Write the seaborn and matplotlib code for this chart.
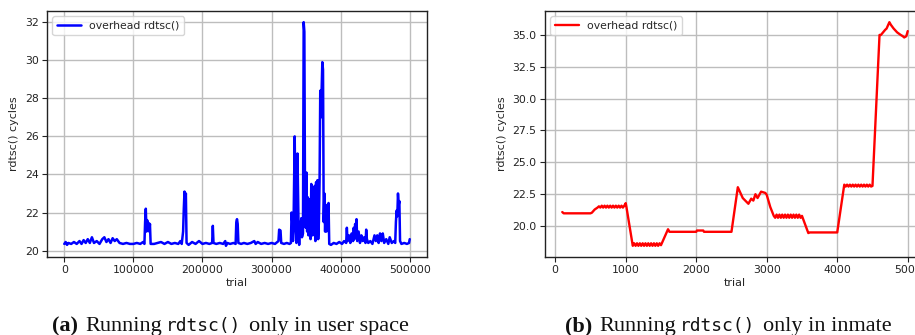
import matplotlib
matplotlib.use("Agg")
import matplotlib.pyplot as plt
import seaborn as sns
import pandas as pd

# ---------------- data ----------------
# left panel: (trial in thousands, rdtsc() cycles)
user_points = [
    (0, 20.35), (2, 20.45), (4, 20.3), (6, 20.4), (10, 20.35), (14, 20.45), (18, 20.35),
    (22, 20.5), (25, 20.35), (28, 20.55), (31, 20.4), (34, 20.6), (37, 20.4), (40, 20.7),
    (43, 20.4), (47, 20.5), (51, 20.35), (55, 20.6), (58, 20.7), (61, 20.45), (64, 20.6),
    (67, 20.4), (70, 20.65), (73, 20.5), (76, 20.6), (80, 20.4), (85, 20.35), (90, 20.4),
    (95, 20.35), (100, 20.35), (105, 20.4), (110, 20.35), (114, 20.45), (116, 20.35),
    (117, 21.5), (118, 22.2), (119, 21.0), (120, 21.6), (121, 21.2), (122, 21.45),
    (123, 21.0), (124, 21.4), (125, 20.35), (130, 20.35), (135, 20.4), (140, 20.45),
    (145, 20.35), (150, 20.45), (155, 20.35), (160, 20.4), (165, 20.35), (168, 20.5),
    (170, 20.35), (172, 21.0), (173, 22.2), (174, 23.1), (175, 22.5), (176, 23.0),
    (177, 20.4), (180, 20.3), (185, 20.45), (190, 20.35), (195, 20.5), (200, 20.35),
    (205, 20.4), (210, 20.35), (214, 20.4), (215, 21.3), (216, 20.4), (220, 20.35),
    (225, 20.4), (230, 20.35), (233, 20.5), (234, 20.25), (236, 20.4), (240, 20.35),
    (245, 20.4), (248, 20.35), (249, 21.5), (250, 21.65), (251, 21.4), (252, 20.4),
    (256, 20.35), (260, 20.4), (265, 20.35), (270, 20.4), (275, 20.5), (277, 20.35),
    (280, 20.45), (285, 20.35), (290, 20.4), (295, 20.35), (300, 20.4), (305, 20.35),
    (310, 20.5), (311, 21.1), (313, 21.05), (314, 20.4), (318, 20.35), (322, 20.4),
    (326, 20.35), (328, 20.4), (329, 22.0), (330, 21.5), (331, 20.5), (332, 21.8),
    (333.5, 26.0), (335, 21.0), (336, 20.4), (337.5, 25.1), (339, 21.5), (340, 20.3),
    (341, 21.5), (342, 21.0), (343, 21.7), (344, 20.7), (345.5, 20.9), (346.5, 32.0),
    (347.5, 31.5), (348.5, 22.0), (349.5, 21.2), (350.5, 24.1), (351.5, 21.0),
    (352.5, 22.8), (353.5, 20.8), (354.5, 22.7), (355.5, 21.0), (356.5, 20.6),
    (357.5, 23.5), (358.5, 21.2), (359.5, 20.8), (360.5, 23.3), (361.5, 21.0),
    (362.5, 23.4), (363.5, 20.5), (364.5, 23.6), (365.5, 21.0), (366.5, 23.7),
    (367.5, 20.6), (368.5, 21.5), (369.5, 23.6), (370.5, 28.4), (371.5, 27.0),
    (372.5, 28.5), (373.5, 29.9), (374.5, 29.5), (375.5, 21.5), (376.5, 23.0),
    (377.5, 21.0), (378.5, 22.3), (379.5, 21.0), (380.5, 22.4), (381.5, 21.2),
    (382.5, 22.5), (383.5, 20.35), (386, 20.3), (390, 20.4), (394, 20.35), (398, 20.45),
    (402, 20.35), (405, 20.5), (408, 20.4), (409, 21.2), (410, 20.5), (412, 20.8),
    (414, 20.4), (416, 20.9), (418, 20.5), (419, 21.2), (420, 20.6), (421, 21.4),
    (422, 20.7), (423, 21.65), (424, 20.5), (426, 21.0), (428, 20.4), (430, 20.8),
    (432, 20.5), (434, 20.7), (436, 20.4), (437, 21.1), (438, 20.6), (440, 20.4),
    (443, 20.5), (446, 20.35), (449, 20.8), (451, 20.5), (453, 20.8), (455, 20.4),
    (457, 20.9), (459, 20.5), (461, 20.9), (463, 20.4), (466, 20.6), (469, 20.35),
    (471, 20.7), (474, 20.4), (477, 20.5), (479, 20.4), (480, 21.5), (481, 22.1),
    (482, 21.8), (483, 23.0), (484, 22.4), (485, 22.6), (486, 20.5), (488, 20.35),
    (492, 20.4), (496, 20.35), (499, 20.4), (500, 20.6),
]

# right panel: (trial, rdtsc() cycles)
inmate_points = [
    (100, 21.1), (120, 21.0), (500, 21.0), (520, 21.05), (560, 21.3), (600, 21.45),
    (620, 21.55), (640, 21.45), (660, 21.6), (680, 21.45), (700, 21.6), (720, 21.45),
    (740, 21.6), (760, 21.45), (780, 21.6), (800, 21.45), (820, 21.6), (840, 21.45),
    (860, 21.6), (880, 21.45), (900, 21.6), (920, 21.45), (940, 21.6), (960, 21.45),
    (980, 21.6), (1000, 21.8), (1010, 21.5), (1100, 18.45), (1120, 18.65), (1140, 18.45),
    (1160, 18.65), (1180, 18.45), (1200, 18.65), (1220, 18.45), (1240, 18.65),
    (1260, 18.45), (1280, 18.65), (1300, 18.45), (1320, 18.65), (1340, 18.45),
    (1360, 18.65), (1380, 18.45), (1400, 18.65), (1420, 18.45), (1440, 18.65),
    (1460, 18.45), (1480, 18.65), (1500, 18.5), (1600, 19.75), (1620, 19.55),
    (2000, 19.55), (2010, 19.65), (2100, 19.65), (2110, 19.55), (2500, 19.55),
    (2590, 23.05), (2660, 22.2), (2740, 21.75), (2780, 22.15), (2810, 22.0),
    (2840, 22.5), (2870, 22.2), (2920, 22.7), (2980, 22.6), (3000, 22.45), (3050, 21.5),
    (3100, 20.8), (3120, 20.65), (3140, 20.9), (3160, 20.65), (3180, 20.9), (3200, 20.65),
    (3220, 20.9), (3240, 20.65), (3260, 20.9), (3280, 20.65), (3300, 20.9), (3320, 20.65),
    (3340, 20.9), (3360, 20.65), (3380, 20.9), (3400, 20.65), (3420, 20.9), (3440, 20.65),
    (3460, 20.9), (3480, 20.65), (3500, 20.8), (3590, 19.45), (3610, 19.5), (4000, 19.5),
    (4100, 23.25), (4120, 23.1), (4140, 23.25), (4160, 23.1), (4180, 23.25), (4200, 23.1),
    (4220, 23.25), (4240, 23.1), (4260, 23.25), (4280, 23.1), (4300, 23.25), (4320, 23.1),
    (4340, 23.25), (4360, 23.1), (4380, 23.25), (4400, 23.1), (4420, 23.25), (4440, 23.1),
    (4460, 23.25), (4480, 23.1), (4500, 23.15), (4600, 35.0), (4620, 35.0), (4650, 35.2),
    (4680, 35.4), (4700, 35.5), (4740, 36.0), (4760, 35.8), (4800, 35.5), (4850, 35.2),
    (4900, 35.0), (4930, 34.9), (4950, 34.8), (4980, 34.9), (5000, 35.3),
]

user_trial = [t * 1000 for t, _ in user_points]
user_cycles = [v for _, v in user_points]
inmate_trial = [t for t, _ in inmate_points]
inmate_cycles = [v for _, v in inmate_points]

label = "overhead rdtsc()"
left_yticks = [20, 22, 24, 26, 28, 30, 32]
left_xticks = [0, 100000, 200000, 300000, 400000, 500000]
right_yticks = [20.0, 22.5, 25.0, 27.5, 30.0, 32.5, 35.0]
right_xticks = [0, 1000, 2000, 3000, 4000, 5000]

# ---------------- style ----------------
sns.set_style("ticks", {
    "axes.edgecolor": "#222222",
    "axes.grid": True,
    "grid.color": "#bdbdbd",
    "xtick.bottom": True,
    "ytick.left": True,
})
plt.rcParams["font.family"] = ["DejaVu Sans"]
plt.rcParams["grid.linewidth"] = 1.0
plt.rcParams["axes.linewidth"] = 1.0

W, H = 915, 335
fig = plt.figure(figsize=(W / 100, H / 100), dpi=100)

ax1 = fig.add_axes([47 / W, 1 - 257 / H, 380 / W, 246 / H])
ax2 = fig.add_axes([545 / W, 1 - 257 / H, 380 / W, 246 / H])

df1 = pd.DataFrame({"trial": user_trial, "cycles": user_cycles})
df2 = pd.DataFrame({"trial": inmate_trial, "cycles": inmate_cycles})

sns.lineplot(data=df1, x="trial", y="cycles", ax=ax1, color="#0000ff", lw=1.8,
             label=label, estimator=None, sort=False)
sns.lineplot(data=df2, x="trial", y="cycles", ax=ax2, color="#ff0000", lw=1.7,
             label=label, estimator=None, sort=False)

ax1.set_yticks(left_yticks)
ax1.set_xticks(left_xticks)
ax1.set_xticklabels([str(v) for v in left_xticks])
ax2.set_yticks(right_yticks)
ax2.set_yticklabels([f"{v:.1f}" for v in right_yticks])
ax2.set_xticks(right_xticks)
ax2.set_xticklabels([str(v) for v in right_xticks])

for ax in (ax1, ax2):
    ax.set_xlabel("trial", fontsize=8, labelpad=2)
    ax.set_ylabel("rdtsc() cycles", fontsize=8, labelpad=4)
    ax.tick_params(labelsize=7.8, length=3.5, width=0.8, pad=2.5, colors="#222222")
    ax.grid(True, color="#bdbdbd", lw=1.0)
    for s in ax.spines.values():
        s.set_visible(True)
        s.set_color("#222222")
    leg = ax.legend(loc="upper left", fontsize=7.8, frameon=True, fancybox=True,
                    handlelength=2.2, borderpad=0.4, borderaxespad=0.5)
    leg.get_frame().set_edgecolor("#cccccc")

# ---------------- captions ----------------
renderer = fig.canvas.get_renderer()
serif = "Liberation Serif"
mono = "DejaVu Sans Mono"


def caption(x_px, pieces):
    y = 1 - 331 / H
    x = x_px
    for text, fam, weight, size, gap in pieces:
        t = fig.text(x / W, y, text, family=fam, fontweight=weight, fontsize=size,
                     va="baseline", ha="left", color="#111111")
        bb = t.get_window_extent(renderer)
        x = bb.x1 + gap


caption(52, [("(a)", serif, "bold", 16, 7), ("Running", serif, "normal", 16, 4),
             ("rdtsc()", mono, "normal", 12.9, 8),
             ("only in user space", serif, "normal", 16, 0)])
caption(565, [("(b)", serif, "bold", 16, 7), ("Running", serif, "normal", 16, 4),
              ("rdtsc()", mono, "normal", 12.9, 8),
              ("only in inmate", serif, "normal", 16, 0)])

fig.savefig("out.png", dpi=100)
